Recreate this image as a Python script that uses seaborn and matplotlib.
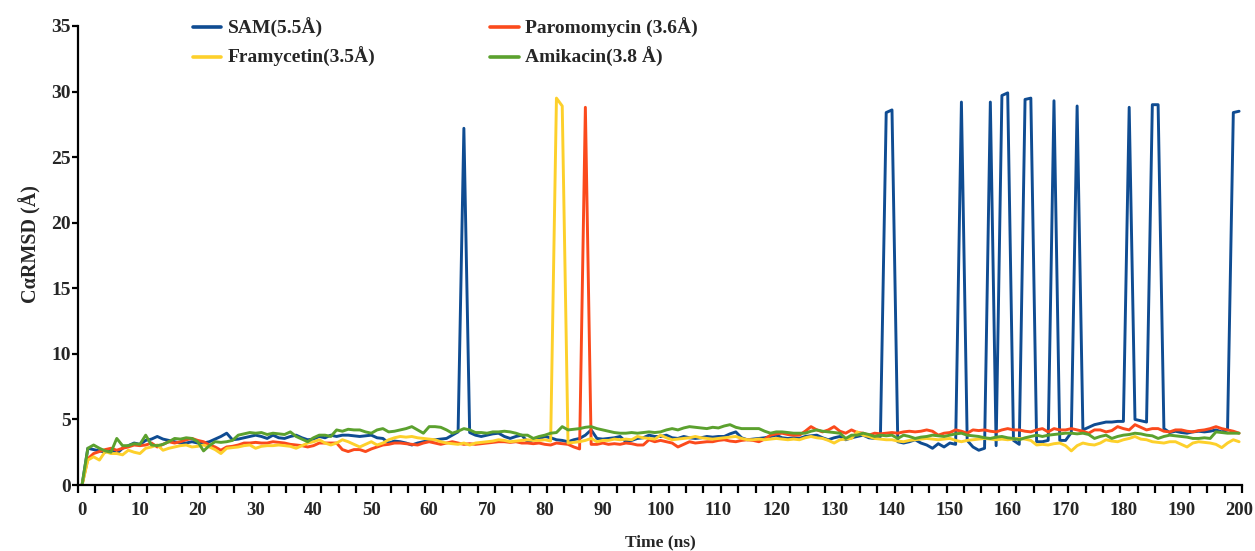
import numpy as np
import pandas as pd
import matplotlib
matplotlib.use("Agg")
import matplotlib.pyplot as plt
import seaborn as sns
from matplotlib.lines import Line2D

time_ns = list(range(0, 201))

sam = [0.0, 2.8, 2.7, 2.6, 2.5, 2.7, 2.4, 2.8, 3.0, 3.2,
       3.1, 3.4, 3.5, 3.7, 3.5, 3.4, 3.3, 3.2, 3.2, 3.3,
       3.2, 3.2, 3.3, 3.5, 3.7, 3.95, 3.45, 3.5, 3.6, 3.7,
       3.8, 3.7, 3.55, 3.8, 3.6, 3.55, 3.7, 3.8, 3.6, 3.45,
       3.5, 3.7, 3.6, 3.8, 3.7, 3.8, 3.8, 3.75, 3.7, 3.75,
       3.8, 3.6, 3.55, 3.2, 3.35, 3.3, 3.2, 3.05, 3.2, 3.3,
       3.4, 3.45, 3.5, 3.55, 3.8, 4.05, 27.2, 4.0, 3.8, 3.7,
       3.8, 3.9, 3.95, 3.7, 3.55, 3.7, 3.8, 3.3, 3.45, 3.5,
       3.7, 3.6, 3.45, 3.4, 3.3, 3.45, 3.55, 3.8, 4.2, 3.55,
       3.5, 3.55, 3.6, 3.7, 3.3, 3.4, 3.55, 3.6, 3.8, 3.7,
       3.7, 3.8, 3.6, 3.55, 3.7, 3.6, 3.55, 3.6, 3.7, 3.65,
       3.7, 3.7, 3.9, 4.05, 3.6, 3.45, 3.5, 3.55, 3.6, 3.7,
       3.8, 3.6, 3.55, 3.6, 3.55, 3.7, 3.75, 3.8, 3.6, 3.45,
       3.6, 3.7, 3.45, 3.6, 3.7, 3.8, 3.6, 3.55, 3.7, 28.4,
       28.6, 3.3, 3.2, 3.3, 3.45, 3.2, 3.05, 2.8, 3.15, 2.9,
       3.2, 3.1, 29.2, 3.4, 2.9, 2.65, 2.8, 29.2, 3.0, 29.7,
       29.9, 3.4, 3.1, 29.4, 29.5, 3.3, 3.3, 3.4, 29.3, 3.4,
       3.4, 4.0, 28.9, 4.2, 4.4, 4.6, 4.7, 4.8, 4.8, 4.85,
       4.85, 28.8, 5.0, 4.9, 4.8, 29.0, 29.0, 4.3, 4.0, 4.1,
       4.0, 3.95, 4.05, 4.1, 4.05, 4.1, 4.2, 4.05, 4.2, 28.4,
       28.5]

paromomycin = [0.0, 2.0, 2.4, 2.55, 2.7, 2.8, 2.65, 2.8, 2.9, 3.05,
               3.0, 3.05, 3.2, 2.9, 3.1, 3.3, 3.2, 3.3, 3.45, 3.55,
               3.4, 3.3, 3.05, 2.9, 2.65, 2.9, 2.95, 3.05, 3.2, 3.2,
               3.25, 3.2, 3.2, 3.3, 3.25, 3.2, 3.1, 3.05, 3.0, 2.9,
               3.0, 3.2, 3.2, 3.2, 3.2, 2.7, 2.55, 2.7, 2.7, 2.55,
               2.75, 2.9, 3.05, 3.1, 3.2, 3.2, 3.15, 3.1, 3.05, 3.2,
               3.3, 3.2, 3.1, 3.2, 3.3, 3.2, 3.1, 3.15, 3.1, 3.15,
               3.2, 3.25, 3.3, 3.3, 3.25, 3.3, 3.2, 3.2, 3.15, 3.2,
               3.1, 3.05, 3.2, 3.15, 3.1, 2.9, 2.75, 28.8, 3.1, 3.1,
               3.2, 3.1, 3.15, 3.1, 3.2, 3.15, 3.05, 3.05, 3.45, 3.3,
               3.4, 3.3, 3.2, 2.9, 3.1, 3.3, 3.2, 3.25, 3.3, 3.3,
               3.4, 3.45, 3.35, 3.3, 3.4, 3.45, 3.4, 3.3, 3.5, 3.8,
               3.9, 3.95, 3.85, 3.8, 3.8, 4.1, 4.45, 4.2, 4.05, 4.2,
               4.45, 4.1, 3.95, 4.2, 4.0, 3.95, 3.8, 3.95, 3.9, 3.95,
               4.0, 3.95, 4.05, 4.1, 4.05, 4.1, 4.2, 4.1, 3.8, 3.95,
               4.0, 4.2, 4.1, 3.95, 4.2, 4.15, 4.2, 4.1, 4.05, 4.2,
               4.3, 4.2, 4.2, 4.1, 4.05, 4.2, 4.3, 4.05, 4.3, 4.2,
               4.2, 4.3, 4.2, 4.1, 3.95, 4.2, 4.2, 4.05, 4.15, 4.45,
               4.3, 4.2, 4.6, 4.4, 4.2, 4.3, 4.3, 4.1, 4.05, 4.2,
               4.2, 4.1, 4.05, 4.15, 4.2, 4.3, 4.45, 4.3, 4.2, 4.1,
               3.95]

framycetin = [0.0, 1.9, 2.15, 1.9, 2.55, 2.4, 2.4, 2.3, 2.65, 2.5,
              2.4, 2.8, 2.9, 3.05, 2.65, 2.8, 2.9, 3.0, 3.05, 2.9,
              2.95, 3.05, 2.9, 2.7, 2.4, 2.8, 2.85, 2.9, 3.0, 3.05,
              2.8, 2.95, 3.0, 3.0, 3.05, 3.0, 2.95, 2.8, 3.0, 3.2,
              3.3, 3.45, 3.2, 3.05, 3.2, 3.45, 3.3, 3.1, 2.9, 3.1,
              3.3, 3.05, 3.2, 3.45, 3.6, 3.7, 3.65, 3.7, 3.6, 3.55,
              3.5, 3.45, 3.3, 3.2, 3.15, 3.1, 3.2, 3.05, 3.2, 3.25,
              3.3, 3.35, 3.45, 3.4, 3.3, 3.35, 3.4, 3.45, 3.4, 3.4,
              3.45, 3.35, 29.5, 28.9, 3.2, 3.25, 3.3, 3.4, 3.55, 3.3,
              3.4, 3.4, 3.5, 3.45, 3.5, 3.45, 3.7, 3.6, 3.55, 3.5,
              3.8, 3.6, 3.45, 3.5, 3.55, 3.6, 3.7, 3.6, 3.55, 3.5,
              3.55, 3.6, 3.65, 3.7, 3.55, 3.45, 3.45, 3.5, 3.45, 3.5,
              3.55, 3.5, 3.45, 3.5, 3.45, 3.6, 3.7, 3.6, 3.55, 3.4,
              3.2, 3.45, 3.5, 3.55, 4.05, 3.8, 3.7, 3.55, 3.5, 3.45,
              3.45, 3.35, 3.3, 3.4, 3.45, 3.5, 3.55, 3.5, 3.45, 3.5,
              3.55, 3.4, 3.3, 3.4, 3.45, 3.5, 3.55, 3.5, 3.45, 3.5,
              3.45, 3.5, 3.55, 3.5, 3.4, 3.05, 3.1, 3.05, 3.15, 3.2,
              3.0, 2.6, 3.0, 3.2, 3.1, 3.05, 3.2, 3.45, 3.35, 3.3,
              3.45, 3.55, 3.7, 3.5, 3.45, 3.3, 3.25, 3.2, 3.3, 3.3,
              3.1, 2.9, 3.2, 3.3, 3.25, 3.2, 3.1, 2.85, 3.2, 3.45,
              3.3]

amikacin = [0.0, 2.8, 3.05, 2.8, 2.6, 2.5, 3.55, 3.0, 3.0, 3.15,
            3.1, 3.8, 3.05, 3.0, 3.1, 3.3, 3.55, 3.5, 3.6, 3.55,
            3.3, 2.6, 3.0, 3.3, 3.25, 3.3, 3.4, 3.8, 3.9, 4.0,
            3.95, 4.0, 3.85, 3.95, 3.9, 3.85, 4.05, 3.7, 3.5, 3.3,
            3.6, 3.8, 3.8, 3.7, 4.2, 4.1, 4.25, 4.2, 4.2, 4.05,
            3.95, 4.2, 4.3, 4.05, 4.1, 4.2, 4.3, 4.45, 4.2, 3.95,
            4.45, 4.45, 4.4, 4.2, 3.95, 4.1, 4.3, 4.2, 4.0, 4.0,
            3.95, 4.05, 4.05, 4.1, 4.05, 3.95, 3.8, 3.8, 3.55, 3.7,
            3.8, 3.95, 4.0, 4.45, 4.2, 4.25, 4.3, 4.4, 4.45, 4.3,
            4.2, 4.1, 4.0, 3.95, 3.95, 4.0, 3.95, 4.0, 4.05, 4.0,
            4.05, 4.2, 4.3, 4.2, 4.35, 4.45, 4.4, 4.35, 4.3, 4.4,
            4.35, 4.5, 4.6, 4.4, 4.3, 4.3, 4.3, 4.3, 4.1, 3.95,
            4.05, 4.05, 4.0, 3.95, 3.95, 3.95, 4.1, 4.2, 4.1, 4.05,
            4.0, 3.95, 3.55, 3.8, 3.8, 3.95, 3.85, 3.7, 3.8, 3.75,
            3.8, 3.55, 3.8, 3.7, 3.55, 3.65, 3.7, 3.8, 3.75, 3.7,
            3.8, 3.9, 3.95, 3.8, 3.75, 3.7, 3.6, 3.55, 3.65, 3.7,
            3.6, 3.55, 3.45, 3.6, 3.7, 3.8, 3.7, 3.8, 3.85, 3.9,
            3.95, 3.95, 3.9, 3.95, 3.85, 3.55, 3.7, 3.8, 3.55, 3.7,
            3.8, 3.85, 3.95, 3.9, 3.8, 3.75, 3.55, 3.7, 3.8, 3.75,
            3.7, 3.65, 3.55, 3.55, 3.6, 3.55, 4.05, 4.0, 3.95, 3.95,
            3.95]

ligands = ["SAM(5.5Å)", "Paromomycin (3.6Å)", "Framycetin(3.5Å)", "Amikacin(3.8 Å)"]
series = [sam, paromomycin, framycetin, amikacin]
colors = ["#0f4c92", "#fb4a1c", "#fdd02b", "#5ba12e"]

x_ticklabels = [str(v) for v in range(0, 201, 10)]
y_ticks = [0, 5, 10, 15, 20, 25, 30, 35]

frames = []
for name, vals in zip(ligands, series):
    frames.append(pd.DataFrame({"Time": time_ns, "RMSD": vals, "Ligand": name}))
df = pd.concat(frames, ignore_index=True)

sns.set_theme(style="white")
plt.rcParams["font.family"] = ["Liberation Serif", "DejaVu Serif"]
plt.rcParams["font.weight"] = "bold"

fig = plt.figure(figsize=(12.55, 5.51), dpi=100)
ax = fig.add_axes([78 / 1255, 1 - 485 / 551, (1242 - 78) / 1255, (485 - 26) / 551])

sns.lineplot(data=df, x="Time", y="RMSD", hue="Ligand", hue_order=ligands,
             palette=colors, linewidth=2.1, estimator=None, sort=False,
             legend=False, ax=ax)

xmin, xmax = -0.7, 200.5
ax.set_xlim(xmin, xmax)
ax.set_ylim(0, 35)

ax.set_xticks(list(range(0, 201, 10)))
ax.set_xticklabels(x_ticklabels)
ax.set_xticks(np.linspace(xmin, xmax, 68), minor=True)
ax.set_yticks(y_ticks)
ax.set_yticklabels([str(v) for v in y_ticks])

ax.tick_params(axis="x", which="major", length=0, pad=12.5, labelsize=13.5)
ax.tick_params(axis="x", which="minor", length=5.5, width=1.6, direction="out", color="black", bottom=True)
ax.tick_params(axis="y", which="major", length=4.5, width=1.6, direction="out", color="black", left=True,
               pad=0.5, labelsize=14)
for lab in ax.get_xticklabels() + ax.get_yticklabels():
    lab.set_fontweight("bold")

for s in ["top", "right"]:
    ax.spines[s].set_visible(False)
for s in ["left", "bottom"]:
    ax.spines[s].set_color("black")
    ax.spines[s].set_linewidth(1.6)

ax.set_xlabel("Time (ns)", fontsize=12.5, fontweight="bold")
ax.xaxis.set_label_coords(0.5, -0.108)
ax.set_ylabel("CαRMSD (Å)", fontsize=14.5, fontweight="bold")
ax.yaxis.set_label_coords(-0.031, 0.525)

order = [0, 2, 1, 3]
handles = [Line2D([0], [0], color=colors[i], lw=2.6) for i in order]
labels = [ligands[i] for i in order]
leg = fig.legend(handles, labels, ncol=2, loc="upper left",
                 bbox_to_anchor=(193 / 1255, 1 - 18 / 551), frameon=False,
                 fontsize=14, handlelength=1.45, handletextpad=0.35,
                 columnspacing=5.9, labelspacing=0.48, borderpad=0, borderaxespad=0)
for t in leg.get_texts():
    t.set_fontweight("bold")

fig.savefig("out.png", dpi=100)
